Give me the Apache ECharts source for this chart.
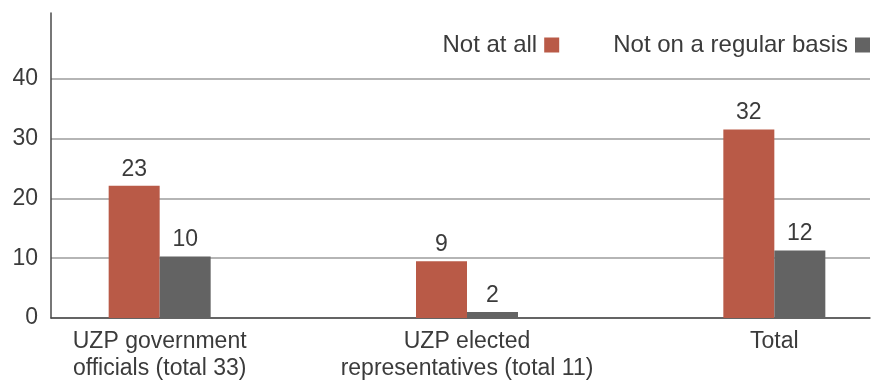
<!DOCTYPE html>
<html>
<head>
<meta charset="utf-8">
<script src="https://cdn.jsdelivr.net/npm/echarts@6/dist/echarts.min.js"></script>
<style>
  html, body { margin: 0; padding: 0; background: #fff; }
  #chart { width: 872px; height: 380px; }
</style>
</head>
<body>
<div id="chart"></div>
<script>
const categories = ["UZP government\nofficials (total 33)", "UZP elected\nrepresentatives (total 11)", "Total"];
const seriesNames = ["Not at all", "Not on a regular basis"];
// bar heights as drawn in the picture, and the numbers printed above them
const notAtAll = [22.1, 9.5, 31.5];
const notRegular = [10.3, 1.0, 11.3];
const notAtAllLabels = ["23", "9", "32"];
const notRegularLabels = ["10", "2", "12"];
const yTicks = [0, 10, 20, 30, 40];

const font = "'Liberation Sans', Arial, sans-serif";
const textColor = "#3b3b3b";
const yMax = 51;

const chart = echarts.init(document.getElementById("chart"));

function barLabel(labels) {
  return {
    show: true,
    position: "top",
    distance: 5,
    color: textColor,
    fontFamily: font,
    fontSize: 23,
    formatter: (p) => labels[p.dataIndex],
  };
}

chart.setOption({
  animation: false,
  legend: {
    data: seriesNames,
    right: 2,
    top: 33,
    padding: 0,
    align: "right",
    icon: "rect",
    itemWidth: 15,
    itemHeight: 15,
    itemGap: 54,
    textStyle: { color: textColor, fontFamily: font, fontSize: 24, padding: [0, 2, 0, 0] },
  },
  grid: [
    { left: 51, right: 2, top: 13, bottom: 62, outerBoundsMode: "none" },
    // bars sit in a wider grid so the three groups land where the original puts them
    { left: 6, width: 922, top: 13, bottom: 62, outerBoundsMode: "none" },
  ],
  xAxis: [
    {
      gridIndex: 0,
      type: "value",
      min: 0,
      max: 1,
      axisLine: { show: true, lineStyle: { color: "#4a4a4a", width: 1.5 } },
      axisTick: { show: false },
      axisLabel: { show: false },
      splitLine: { show: false },
    },
    {
      gridIndex: 1,
      type: "category",
      data: categories,
      axisLine: { show: false },
      axisTick: { show: false },
      axisLabel: {
        color: textColor,
        fontFamily: font,
        fontSize: 23,
        lineHeight: 27,
        margin: 10,
        interval: 0,
      },
    },
  ],
  yAxis: [
    {
      gridIndex: 0,
      type: "value",
      min: 0,
      max: yMax,
      interval: 10,
      axisLine: { show: true, lineStyle: { color: "#4a4a4a", width: 1.5 } },
      axisTick: { show: false },
      axisLabel: {
        color: textColor,
        fontFamily: font,
        fontSize: 23,
        margin: 13,
        formatter: (v) => (yTicks.includes(v) ? String(v) : ""),
      },
      splitLine: {
        show: true,
        lineStyle: {
          color: ["#9c9c9c", "#9c9c9c", "#9c9c9c", "#9c9c9c", "#9c9c9c", "rgba(0,0,0,0)", "rgba(0,0,0,0)"],
          width: 1.5,
        },
      },
    },
    {
      gridIndex: 1,
      type: "value",
      min: 0,
      max: yMax,
      show: false,
      splitLine: { show: false },
    },
  ],
  series: [
    {
      name: seriesNames[0],
      type: "bar",
      xAxisIndex: 1,
      yAxisIndex: 1,
      data: notAtAll,
      barWidth: 51,
      barGap: "0%",
      itemStyle: { color: "#b95a47" },
      label: barLabel(notAtAllLabels),
    },
    {
      name: seriesNames[1],
      type: "bar",
      xAxisIndex: 1,
      yAxisIndex: 1,
      data: notRegular,
      barWidth: 51,
      barGap: "0%",
      itemStyle: { color: "#636363" },
      label: barLabel(notRegularLabels),
    },
  ],
});
</script>
</body>
</html>
